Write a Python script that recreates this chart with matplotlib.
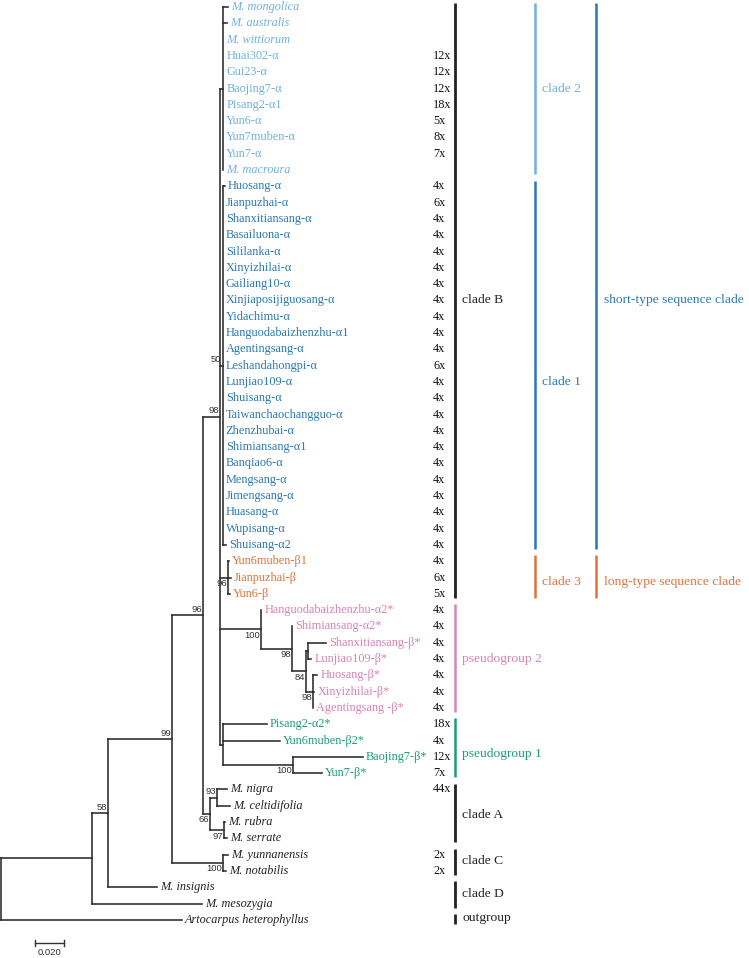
import matplotlib
matplotlib.use("Agg")
import matplotlib.pyplot as plt
from matplotlib.transforms import blended_transform_factory

# ML tree, branch lengths in substitutions/site, bootstrap as node labels
TREE = ("(((((((M. mongolica:0.0035,M. australis:0.0028,M. wittiorum:0,Huai302-α:0,Gui23-α:0,"
        "Baojing7-α:0,Pisang2-α1:0,Yun6-α:0,Yun7muben-α:0,Yun7-α:0,M. macroura:0):0.0021,"
        "(Huosang-α:0.0014,Jianpuzhai-α:0,Shanxitiansang-α:0,Basailuona-α:0,Sililanka-α:0,"
        "Xinyizhilai-α:0,Gailiang10-α:0,Xinjiaposijiguosang-α:0,Yidachimu-α:0,"
        "Hanguodabaizhenzhu-α1:0,Agentingsang-α:0,Leshandahongpi-α:0,Lunjiao109-α:0,"
        "Shuisang-α:0,Taiwanchaochangguo-α:0,Zhenzhubai-α:0,Shimiansang-α1:0,Banqiao6-α:0,"
        "Mengsang-α:0,Jimengsang-α:0,Huasang-α:0,Wupisang-α:0,Shuisang-α2:0.0025)50:0.0018,"
        "(Yun6muben-β1:0.0007,Jianpuzhai-β:0.0018,Yun6-β:0.0014)96:0.0056,"
        "(Hanguodabaizhenzhu-α2*:0,(Shimiansang-α2*:0,((Shanxitiansang-β*:0.0126,Lunjiao109-β*:0.0021):0.0014,"
        "(Huosang-β*:0.0028,Xinyizhilai-β*:0.0007,Agentingsang -β*:0)98:0.0049)84:0.0098)98:0.0218)100:0.0288,"
        "(Pisang2-α2*:0.0311,Yun6muben-β2*:0.0400,(Baojing7-β*:0.0491,Yun7-β*:0.0204)100:0.0493):0.0018)98:0.0119,"
        "((M. nigra:0.0070,M. celtidifolia:0.0091)93:0.0049,(M. rubra:0.0007,M. serrate:0.0021)97:0.0098)66:0.0049)96:0.0218,"
        "(M. yunnanensis:0.0035,M. notabilis:0.0021)100:0.0358)99:0.0449,"
        "M. insignis:0.0344)58:0.0112,M. mesozygia:0.0772):0.0639,"
        "Artocarpus heterophyllus:0.1270);")

# bootstrap label side, in postorder of labelled nodes ('a' above, 'b' below)
BOOT_SIDE = ["a", "b", "b", "b", "b", "b", "b", "a", "a", "b", "b", "a", "b", "a", "a"]

# copy numbers per leaf, top to bottom
COPIES = [None, None, None, 12, 12, 12, 18, 5, 8, 7, None,
          4, 6, 4, 4, 4, 4, 4, 4, 4, 4, 4, 6, 4, 4, 4, 4, 4, 4, 4, 4, 4, 4, 4,
          4, 6, 5,
          4, 4, 4, 4, 4, 4, 4,
          18, 4, 12, 7,
          44, None, None, None, 2, 2, None, None, None]

# brackets on the right: name, first leaf row, last leaf row, column, colour, label row
GROUP_NAMES = ["clade B", "pseudogroup 2", "pseudogroup 1", "clade A", "clade C", "clade D", "outgroup",
               "clade 2", "clade 1", "clade 3",
               "short-type sequence clade", "long-type sequence clade"]
GROUP_FIRST = [0, 37, 44, 48, 52, 54, 56, 0, 11, 34, 0, 34]
GROUP_LAST = [36, 43, 47, 51, 53, 55, 56, 10, 33, 36, 33, 36]
GROUP_LEVEL = [0, 0, 0, 0, 0, 0, 0, 1, 1, 1, 2, 2]
GROUP_LABEL_ROW = [18, 40, 45.8, 49.6, 52.4, 54.4, 55.9, 5, 23, 35.3, 18, 35.3]

BLACK = "#222222"
LIGHT_BLUE = "#6cb2e0"
BLUE = "#2878b6"
ORANGE = "#e0733a"
PINK = "#d981b9"
GREEN = "#1a9e76"
GROUP_COLORS = [BLACK, PINK, GREEN, BLACK, BLACK, BLACK, BLACK,
                LIGHT_BLUE, BLUE, ORANGE, BLUE, ORANGE]


def parse(s, i=0):
    node = {"children": [], "name": "", "bl": 0.0}
    if s[i] == "(":
        i += 1
        while True:
            child, i = parse(s, i)
            node["children"].append(child)
            if s[i] == ",":
                i += 1
            else:
                i += 1  # ')'
                break
    j = i
    while s[i] not in ":,);":
        i += 1
    node["name"] = s[j:i]
    if s[i] == ":":
        i += 1
        j = i
        while s[i] not in ",);":
            i += 1
        node["bl"] = float(s[j:i])
    return node, i


def layout(node, x, leaves, inner):
    node["x"] = x + node["bl"]
    if not node["children"]:
        node["y"] = len(leaves)
        leaves.append(node)
        return
    for c in node["children"]:
        layout(c, node["x"], leaves, inner)
    node["y"] = (node["children"][0]["y"] + node["children"][-1]["y"]) / 2
    inner.append(node)


root, _ = parse(TREE)
root["bl"] = 0.0
leaves, inner = [], []
layout(root, 0.0, leaves, inner)

px_per_unit = 1425.0
row_px = 16.3
fig = plt.figure(figsize=(7.49, 9.58), dpi=100)
ax = fig.add_axes([0, 0, 1, 1])
ax.set_xlim(-1 / px_per_unit, 748 / px_per_unit)
ax.set_ylim((958 - 7) / row_px, -7 / row_px)
ax.axis("off")

line_kw = dict(color="#2b2b2b", lw=1.15, solid_capstyle="projecting")
serif = "Liberation Serif"
sans = "Liberation Sans"

# branches
boot_i = 0
for n in inner:
    ch = n["children"]
    ax.plot([n["x"], n["x"]], [ch[0]["y"], ch[-1]["y"]], **line_kw)
    for c in ch:
        ax.plot([n["x"], c["x"]], [c["y"], c["y"]], **line_kw)
    if n["name"]:
        side = BOOT_SIDE[boot_i]
        boot_i += 1
        ax.annotate(n["name"], (n["x"], n["y"]), xytext=(-0.8, 1.0 if side == "a" else -1.0),
                    textcoords="offset points", ha="right", va="bottom" if side == "a" else "top",
                    fontsize=6.8, family=sans, color="#333333")

# leaf colours from brackets
leaf_color = [BLACK] * len(leaves)
for lvl in (0, 1):
    for k in range(len(GROUP_NAMES)):
        if GROUP_LEVEL[k] == lvl:
            for r in range(GROUP_FIRST[k], GROUP_LAST[k] + 1):
                leaf_color[r] = GROUP_COLORS[k]

for r, lf in enumerate(leaves):
    name = lf["name"]
    italic = name.startswith("M. ") or name.startswith("Artocarpus")
    ax.annotate(name, (lf["x"], lf["y"]), xytext=(2.3, 0), textcoords="offset points",
                ha="left", va="center", fontsize=8.8, family=serif,
                style="italic" if italic else "normal", color=leaf_color[r])

trans = blended_transform_factory(ax.transAxes, ax.transData)
count_x = 433 / 749
for r, n in enumerate(COPIES):
    if n is not None:
        ax.text(count_x, r, f"{n}x", transform=trans, ha="left", va="center",
                fontsize=8.8, family=serif, color="#111111")

bar_x = [455 / 749, 535 / 749, 596 / 749]
for k, name in enumerate(GROUP_NAMES):
    bx = bar_x[GROUP_LEVEL[k]]
    col = GROUP_COLORS[k]
    top = GROUP_FIRST[k] - (0.25 if GROUP_FIRST[k] == 0 else 0.35)
    ax.plot([bx, bx], [top, GROUP_LAST[k] + 0.25], transform=trans, color=col,
            lw=2.0 if col == BLACK else 1.8, solid_capstyle="butt")
    ax.text(bx + 7.5 / 749, GROUP_LABEL_ROW[k], name, transform=trans, ha="left", va="center",
            fontsize=9.7, family=serif, color=col)

# scale bar
sb_len = 0.020
sb_x0 = 34 / px_per_unit
sb_row = (943 - 7) / row_px
ax.plot([sb_x0, sb_x0 + sb_len], [sb_row, sb_row], color="#333333", lw=1.0)
for xx in (sb_x0, sb_x0 + sb_len):
    ax.plot([xx, xx], [sb_row - 0.2, sb_row + 0.2], color="#333333", lw=1.0)
ax.text(sb_x0 + sb_len / 2, sb_row + 0.6, f"{sb_len:.3f}", ha="center", va="center",
        fontsize=6.8, family=sans, color="#333333")

fig.savefig("out.png", dpi=100)
